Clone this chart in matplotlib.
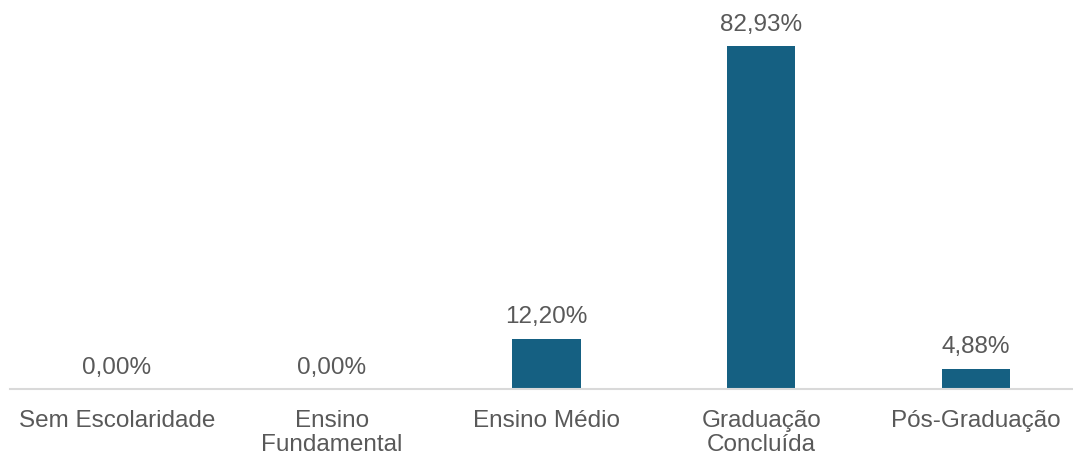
import numpy as np
import matplotlib.pyplot as plt

plt.rcParams['font.family'] = ['Liberation Sans', 'DejaVu Sans']

categorias = ['Sem Escolaridade', 'Ensino\nFundamental', 'Ensino Médio',
              'Graduação\nConcluída', 'Pós-Graduação']
valores = [0.00, 0.00, 12.20, 82.93, 4.88]
rotulos = ['0,00%', '0,00%', '12,20%', '82,93%', '4,88%']

cor_barra = '#156082'
cor_texto = '#595959'

fig = plt.figure(figsize=(10.73, 4.57), dpi=100)
ax = fig.add_axes([9.6 / 1073, 1 - 389 / 457, 1073.75 / 1073, 372.2 / 457])

x = np.arange(len(categorias))
barras = ax.bar(x, valores, width=0.317, color=cor_barra)

for b, r in zip(barras, rotulos):
    ax.annotate(r, (b.get_x() + b.get_width() / 2, b.get_height()),
                xytext=(0, 7.5), textcoords='offset points',
                ha='center', va='bottom', fontsize=17.5, color=cor_texto)

ax.set_xlim(-0.5, len(categorias) - 0.5)
ax.set_ylim(0, 90)
ax.set_xticks(x)
ax.set_xticklabels(categorias, fontsize=17.5, color=cor_texto, linespacing=1.12)
ax.tick_params(axis='x', length=0, pad=15)
ax.set_yticks([])
for s in ['top', 'left', 'right']:
    ax.spines[s].set_visible(False)
ax.spines['bottom'].set_color('#d9d9d9')
ax.spines['bottom'].set_linewidth(1.5)

fig.savefig('out.png', dpi=100)
